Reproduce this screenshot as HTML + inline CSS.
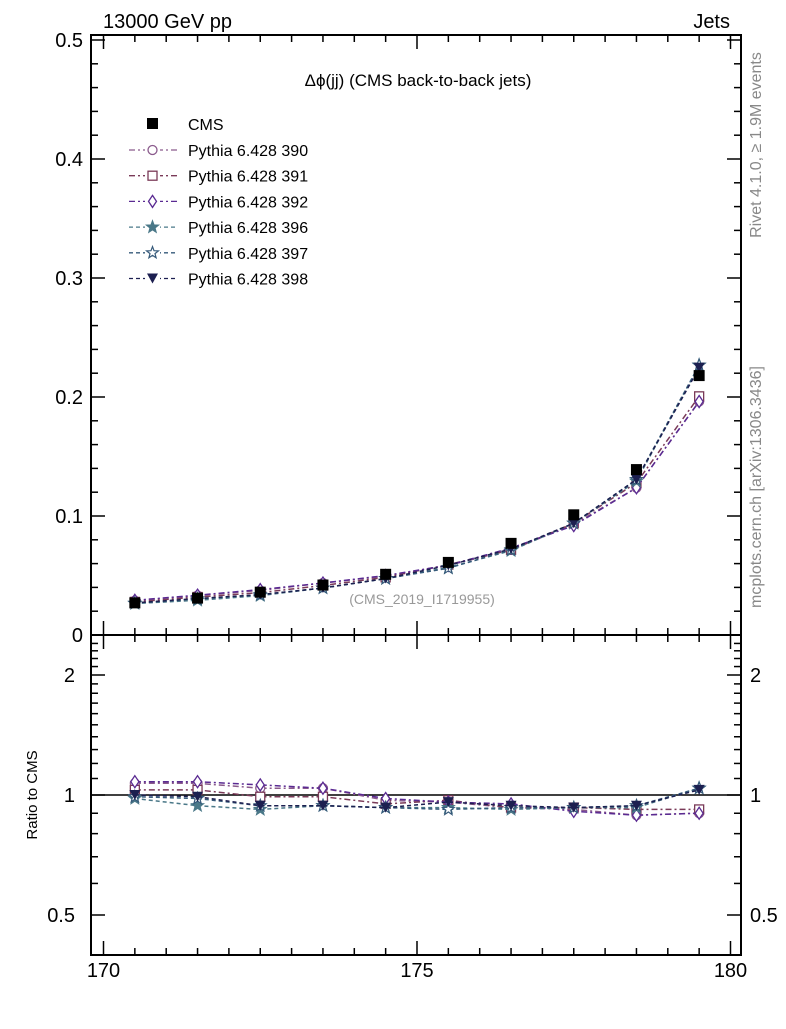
<!DOCTYPE html>
<html><head><meta charset="utf-8"><style>
body{margin:0;background:#fff;width:786px;height:1024px;overflow:hidden}
svg{font-family:"Liberation Sans",sans-serif}
</style></head><body>
<svg id="chart" width="786" height="1024">
<text x="103" y="28" font-size="20">13000 GeV pp</text>
<text x="730" y="28" font-size="20" text-anchor="end">Jets</text>
<text x="418" y="86" font-size="17" text-anchor="middle">Δϕ(jj) (CMS back-to-back jets)</text>
<text x="422" y="604" font-size="14" fill="#999" text-anchor="middle">(CMS_2019_I1719955)</text>
<text transform="translate(761,145) rotate(-90)" font-size="16" fill="#888" text-anchor="middle">Rivet 4.1.0, ≥ 1.9M events</text>
<text transform="translate(761,487) rotate(-90)" font-size="16" fill="#888" text-anchor="middle">mcplots.cern.ch [arXiv:1306.3436]</text>
<text transform="translate(37,795) rotate(-90)" font-size="15" text-anchor="middle">Ratio to CMS</text>
<g id="g"></g>
</svg>
<script>
const binCenters=[170.5,171.5,172.5,173.5,174.5,175.5,176.5,177.5,178.5,179.5];
const cmsValues=[0.027,0.031,0.036,0.042,0.051,0.061,0.077,0.101,0.139,0.218];
const r390=[1.07,1.07,1.04,1.04,0.97,0.96,0.93,0.92,0.89,0.90];
const r391=[1.03,1.03,0.99,0.99,0.95,0.97,0.93,0.93,0.92,0.92];
const r392=[1.08,1.08,1.06,1.04,0.98,0.96,0.95,0.91,0.89,0.90];
const r396=[0.98,0.94,0.92,0.94,0.93,0.93,0.92,0.93,0.93,1.04];
const r397=[0.99,0.98,0.94,0.94,0.93,0.92,0.93,0.93,0.94,1.04];
const r398=[1.00,0.99,0.94,0.94,0.93,0.96,0.94,0.93,0.94,1.03];
const seriesNames=["Pythia 6.428 390","Pythia 6.428 391","Pythia 6.428 392","Pythia 6.428 396","Pythia 6.428 397","Pythia 6.428 398"];
const mainTicks=["0","0.1","0.2","0.3","0.4","0.5"];
const ratioTicks=["0.5","1","2"];
const xTicks=["170","175","180"];

const NS="http://www.w3.org/2000/svg";
const g=document.getElementById('g');
function el(t,a,p){const e=document.createElementNS(NS,t);for(const k in a)e.setAttribute(k,a[k]);(p||g).appendChild(e);return e;}
const L=91,R=741,T=35,M=635,B=955;
const xs=v=>103.5+(v-170)*62.7;
const ys=v=>635-v*1190;
const yr=v=>795-Math.log2(v)*120;

// frames
let f=el('rect',{x:L,y:T,width:R-L,height:M-T,fill:'none',stroke:'#000','stroke-width':2});


f=el('rect',{x:L,y:M,width:R-L,height:B-M,fill:'none',stroke:'#000','stroke-width':2});



// x ticks
for(let v=170;v<=180.001;v+=0.5){
  const x=xs(v),maj=Math.abs(v-Math.round(v/5)*5)<1e-6,len=maj?14:7;
  [[M,-1],[B,-1],[T,1],[M,1]].forEach(([y0,d])=>{el('line',{x1:x,x2:x,y1:y0,y2:y0+d*len,stroke:'#000','stroke-width':1.5});});
}
xTicks.forEach(t=>{const e=el('text',{x:xs(+t),y:977,'font-size':20,'text-anchor':'middle'});e.textContent=t;

});
// main y ticks
for(let i=0;i<=25;i++){const v=i*0.02,y=ys(v),len=i%5==0?14:7;
  el('line',{x1:L,x2:L+len,y1:y,y2:y,stroke:'#000','stroke-width':1.5});
  el('line',{x1:R,x2:R-len,y1:y,y2:y,stroke:'#000','stroke-width':1.5});}
mainTicks.forEach(t=>{const e=el('text',{x:83,y:ys(+t)+7,'font-size':20,'text-anchor':'end'});e.textContent=t;

});
// ratio ticks
for(let i=4;i<=25;i++){const v=i/10,y=yr(v);if(y<M+2||y>B-2)continue;const len=(i==5||i==10||i==20)?14:7;
  el('line',{x1:L,x2:L+len,y1:y,y2:y,stroke:'#000','stroke-width':1.5});
  el('line',{x1:R,x2:R-len,y1:y,y2:y,stroke:'#000','stroke-width':1.5});}
ratioTicks.forEach(t=>{let e=el('text',{x:75,y:yr(+t)+7,'font-size':20,'text-anchor':'end'});e.textContent=t;


e=el('text',{x:750,y:yr(+t)+7,'font-size':20});e.textContent=t;

});
let ln=el('line',{x1:L,x2:R,y1:yr(1),y2:yr(1),stroke:'#000','stroke-width':1.5});



const ratios=[r390,r391,r392,r396,r397,r398];
const colors=['#8a5a8c','#7a3a58','#5a2a92','#4a7888','#365a7a','#1c1f50'];
const markers=['circle','square','diamond','star','ostar','tri'];
const dashes=['6,3,2,3','6,3,2,3','6,3,2,3','4,3','4,3','4,3'];
function marker(type,x,y,c,parent){
  let e;
  if(type=='circle')e=el('circle',{cx:x,cy:y,r:4.5,fill:'#fff',stroke:c,'stroke-width':1.3},parent);
  else if(type=='square')e=el('rect',{x:x-4.5,y:y-4.5,width:9,height:9,fill:'#fff',stroke:c,'stroke-width':1.3},parent);
  else if(type=='diamond')e=el('polygon',{points:`${x},${y-6} ${x+4},${y} ${x},${y+6} ${x-4},${y}`,fill:'#fff',stroke:c,'stroke-width':1.3},parent);
  else if(type=='tri')e=el('polygon',{points:`${x-5.5},${y-5} ${x+5.5},${y-5} ${x},${y+5}`,fill:c},parent);
  else{let p=[];for(let k=0;k<10;k++){const a=-Math.PI/2+k*Math.PI/5,rr=k%2?2.6:6.2;p.push((x+rr*Math.cos(a)).toFixed(1)+','+(y+rr*Math.sin(a)).toFixed(1));}
    e=el('polygon',{points:p.join(' '),fill:type=='star'?c:'#fff',stroke:c,'stroke-width':1.2},parent);}
  return e;
}
ratios.forEach((r,s)=>{
  const c=colors[s];
  const grp=el('g',{});
  
  
  const pm=binCenters.map((b,i)=>xs(b)+','+ys(cmsValues[i]*r[i]).toFixed(1)).join(' ');
  const pr=binCenters.map((b,i)=>xs(b)+','+yr(r[i]).toFixed(1)).join(' ');
  el('polyline',{points:pm,fill:'none',stroke:c,'stroke-width':1.5,'stroke-dasharray':dashes[s]},grp);
  el('polyline',{points:pr,fill:'none',stroke:c,'stroke-width':1.5,'stroke-dasharray':dashes[s]},grp);
  binCenters.forEach((b,i)=>{
    const m1=marker(markers[s],xs(b),ys(cmsValues[i]*r[i]),c,grp);
    
    
    const m2=marker(markers[s],xs(b),yr(r[i]),c,grp);
    
    
  });
  // legend
  const ly=150+s*25.7;
  const lg=el('g',{});
  
  
  el('line',{x1:129,x2:177,y1:ly,y2:ly,stroke:c,'stroke-width':1.3,'stroke-dasharray':dashes[s]},lg);
  el('rect',{x:145,y:ly-7,width:15,height:14,fill:'#fff'},lg);
  marker(markers[s],152.5,ly,c,lg);
  const t=el('text',{x:188,y:ly+6,'font-size':16},lg);t.textContent=seriesNames[s];
});
// CMS data
binCenters.forEach((b,i)=>{
  const e=el('rect',{x:xs(b)-5.5,y:ys(cmsValues[i])-5.5,width:11,height:11,fill:'#000'});
  
  
});
const lc=el('g',{});


el('rect',{x:147,y:118,width:11,height:11,fill:'#000'},lc);
const tc=el('text',{x:188,y:130,'font-size':16},lc);tc.textContent='CMS';
</script>
</body></html>
